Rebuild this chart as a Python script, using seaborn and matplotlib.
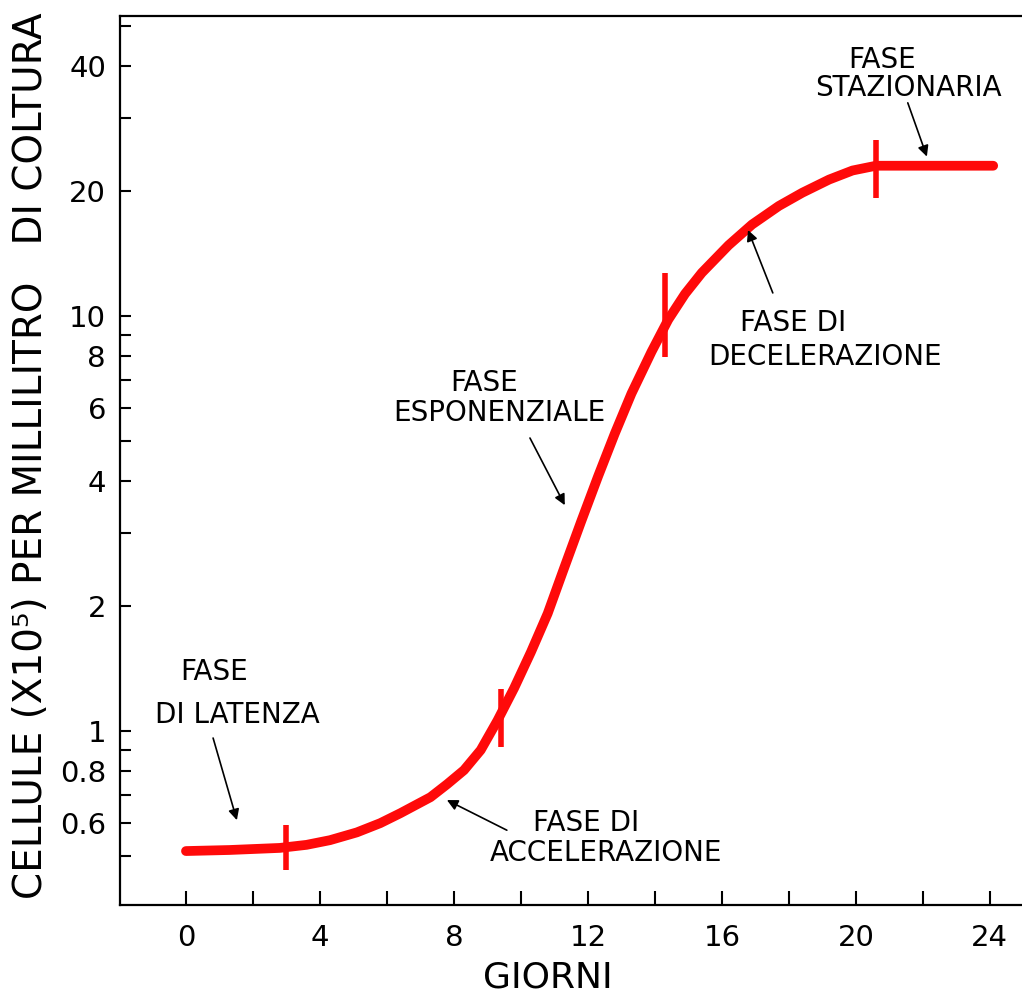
import numpy as np
import pandas as pd
import matplotlib
matplotlib.use("Agg")
import matplotlib.pyplot as plt
import seaborn as sns
from matplotlib.ticker import FixedLocator, NullFormatter

# ============================================
# DATA
# ============================================

days = [0, 1.3, 2.8, 3.6, 4.3, 5.1, 5.8, 6.4, 7.3, 7.8, 8.3, 8.8, 9.3,
        9.8, 10.3, 10.8, 11.25, 11.8, 12.3, 12.8, 13.3, 13.9, 14.4, 14.9,
        15.4, 16.2, 16.9, 17.7, 18.4, 19.2, 19.9, 20.6, 22.9, 24.1]
cells = [0.514, 0.517, 0.523, 0.532, 0.546, 0.570, 0.600, 0.634, 0.693,
         0.745, 0.805, 0.90, 1.06, 1.27, 1.55, 1.92, 2.42, 3.2, 4.1, 5.2,
         6.5, 8.2, 9.8, 11.3, 12.7, 14.8, 16.6, 18.4, 19.8, 21.3, 22.4,
         23.0, 23.0, 23.0]

# phase boundaries marked on the curve
mark_days = [3.0, 9.4, 14.3, 20.6]
mark_cells = [0.524, 1.075, 10.05, 22.6]

x_major = [0, 4, 8, 12, 16, 20, 24]
x_minor = [2, 6, 10, 14, 18, 22]
y_major = [0.6, 0.8, 1, 2, 4, 6, 8, 10, 20, 40]
y_major_labels = ["0.6", "0.8", "1", "2", "4", "6", "8", "10", "20", "40"]
y_minor = [0.5, 0.7, 0.9, 3, 5, 7, 9, 30, 50]

df = pd.DataFrame({"Giorni": days, "Cellule": cells})

# ============================================
# FIGURE
# ============================================

sns.set_theme(style="ticks")
plt.rcParams["font.family"] = ["DejaVu Sans"]

fig = plt.figure(figsize=(10.22, 9.94), dpi=100)
ax = fig.add_axes([0.1174, 0.0895, 0.8826, 0.8945])

red = "#ff0a0a"

sns.lineplot(data=df, x="Giorni", y="Cellule", color=red, linewidth=7,
             solid_capstyle="round", solid_joinstyle="round", ax=ax)

ax.scatter(mark_days, mark_cells, marker="|", color=red,
           s=[1050, 1745, 3575, 1745], linewidths=4, zorder=3)

ax.set_yscale("log")
ax.set_xlim(-1.97, 24.96)
ax.set_ylim(0.381, 52.8)

ax.xaxis.set_major_locator(FixedLocator(x_major))
ax.xaxis.set_minor_locator(FixedLocator(x_minor))
ax.set_xticklabels([str(v) for v in x_major])
ax.yaxis.set_major_locator(FixedLocator(y_major))
ax.yaxis.set_minor_locator(FixedLocator(y_minor))
ax.set_yticklabels(y_major_labels)
ax.yaxis.set_minor_formatter(NullFormatter())

ax.tick_params(axis="x", which="both", direction="in", length=10, width=1.5,
               labelsize=21, pad=14, colors="black")
ax.tick_params(axis="y", which="both", direction="in", length=8, width=1.5,
               labelsize=21, pad=10, colors="black")

for side in ["left", "bottom", "top"]:
    ax.spines[side].set_linewidth(1.6)
    ax.spines[side].set_color("black")
ax.spines["right"].set_visible(False)

ax.set_xlabel("GIORNI", fontsize=26, color="black")
ax.xaxis.set_label_coords(0.4745, -0.062)
ax.xaxis.label.set_verticalalignment("top")

ax.set_ylabel("CELLULE (X10\u2075) PER MILLILITRO   DI COLTURA",
              fontsize=28, color="black")
ax.yaxis.set_label_coords(-0.078, 0.505)

# ============================================
# PHASE ANNOTATIONS
# ============================================

txt = dict(fontsize=20, ha="left", va="center", color="black")
arrow = dict(arrowstyle="-|>", color="black", lw=1.2, mutation_scale=16,
             shrinkA=0, shrinkB=0)

ax.text(-0.18, 1.387, "FASE", **txt)
ax.text(-0.93, 1.093, "DI LATENZA", **txt)
ax.annotate("", xy=(1.52, 0.610), xytext=(0.81, 0.962), arrowprops=arrow)

ax.text(7.88, 6.90, "FASE", **txt)
ax.text(6.18, 5.84, "ESPONENZIALE", **txt)
ax.annotate("", xy=(11.31, 3.50), xytext=(10.27, 5.08), arrowprops=arrow)

ax.text(10.36, 0.600, "FASE DI", **txt)
ax.text(9.07, 0.508, "ACCELERAZIONE", **txt)
ax.annotate("", xy=(7.79, 0.682), xytext=(9.58, 0.577), arrowprops=arrow)

ax.text(16.54, 9.62, "FASE DI", **txt)
ax.text(15.58, 7.96, "DECELERAZIONE", **txt)
ax.annotate("", xy=(16.78, 16.1), xytext=(17.52, 11.36), arrowprops=arrow)

ax.text(19.76, 41.4, "FASE", **txt)
ax.text(18.78, 35.4, "STAZIONARIA", **txt)
ax.annotate("", xy=(22.12, 24.2), xytext=(21.55, 32.6), arrowprops=arrow)

fig.savefig("out.png", dpi=100)
